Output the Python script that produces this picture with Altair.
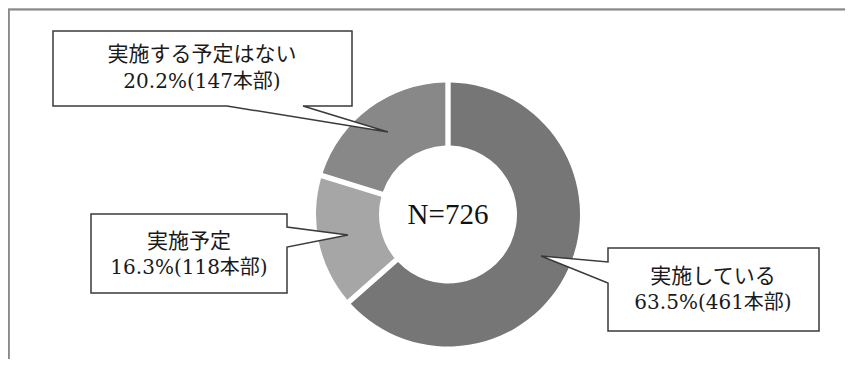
import altair as alt
import pandas as pd

# ---- data ----
categories = ["実施している", "実施予定", "実施する予定はない"]
counts = [461, 118, 147]
pcts = [63.5, 16.3, 20.2]
total_n = 726
colors = ["#767676", "#a6a6a6", "#888888"]

df = pd.DataFrame({
    "category": categories,
    "count": counts,
    "pct": pcts,
    "order": [0, 1, 2],
    "total": [total_n] * 3,
})

# ---- layout (page pixel coords; chart origin sits at page (8, 8)) ----
OFF = 8
W, H = 837, 351
FONT = "Liberation Serif, Noto Sans CJK JP"
FONT2 = "DejaVu Serif, Noto Sans CJK JP"
CX, CY = 448 - OFF, 214.5 - OFF
R_OUT, R_IN = 132, 69


def p(x, y):
    return f"{x - OFF:.1f} {y - OFF:.1f}"


# callout outlines (box + pointer wedge), as absolute pixel paths
callouts = {
    "実施する予定はない": {
        "path": "M " + p(53, 31) + " L " + p(352, 31) + " L " + p(352, 106)
                + " L " + p(303, 106) + " L " + p(388, 132) + " L " + p(227, 106)
                + " L " + p(53, 106) + " Z",
        "tx": 202, "ty1": 55, "ty2": 82,
    },
    "実施予定": {
        "path": "M " + p(91, 214) + " L " + p(287, 214) + " L " + p(287, 227)
                + " L " + p(348, 235) + " L " + p(287, 247) + " L " + p(287, 293)
                + " L " + p(91, 293) + " Z",
        "tx": 189, "ty1": 242, "ty2": 268,
    },
    "実施している": {
        "path": "M " + p(608, 248) + " L " + p(819, 248) + " L " + p(819, 331)
                + " L " + p(608, 331) + " L " + p(608, 283) + " L " + p(541, 256)
                + " L " + p(608, 262) + " Z",
        "tx": 713, "ty1": 277, "ty2": 303,
    },
}

base = alt.Chart(df)

frame_top = base.mark_rule(color="#8a8a8a", strokeWidth=1.5).encode(
    x=alt.value(0), x2=alt.value(845), y=alt.value(1.5)
)
frame_left = base.mark_rule(color="#8a8a8a", strokeWidth=1.5).encode(
    x=alt.value(0.75), y=alt.value(1.5), y2=alt.value(H)
)

donut = base.mark_arc(radius=R_OUT, radius2=R_IN, padAngle=0.036).encode(
    theta=alt.Theta("count:Q", stack=True),
    order=alt.Order("order:Q"),
    color=alt.Color("category:N", scale=alt.Scale(domain=categories, range=colors), legend=None),
    x=alt.value(CX),
    y=alt.value(CY),
)

center_text = base.transform_filter(alt.datum.order == 0).transform_calculate(
    ntext="'N=' + datum.total"
).mark_text(font=FONT, fontSize=29, color="#111111", align="center", baseline="middle").encode(
    text="ntext:N", x=alt.value(CX), y=alt.value(CY)
)

layers = [frame_top, frame_left, donut]
for cat, c in callouts.items():
    sel = base.transform_filter(alt.datum.category == cat)
    shape = sel.mark_point(
        shape=c["path"], size=4, filled=True, fill="white", stroke="#3a3a3a",
        strokeWidth=1.5, opacity=1, strokeJoin="miter",
    ).encode(x=alt.value(0), y=alt.value(0))
    line1 = sel.mark_text(font=FONT, fontSize=21, color="#1a1a1a", align="center", baseline="middle").encode(
        text="category:N", x=alt.value(c["tx"] - OFF), y=alt.value(c["ty1"] - OFF)
    )
    line2 = sel.transform_calculate(
        lbl="format(datum.pct, '.1f') + '%(' + datum.count + '本部)'"
    ).mark_text(font=FONT2, fontSize=20, color="#1a1a1a", align="center", baseline="middle").encode(
        text="lbl:N", x=alt.value(c["tx"] - OFF), y=alt.value(c["ty2"] - OFF)
    )
    layers += [shape, line1, line2]

layers.append(center_text)

chart = alt.layer(*layers).properties(
    width=W, height=H, padding=0, autosize=alt.AutoSizeParams(type="none")
).configure_view(stroke=None).configure(background="white")

chart.save("out.html", embed_options={"renderer": "svg", "actions": False})
